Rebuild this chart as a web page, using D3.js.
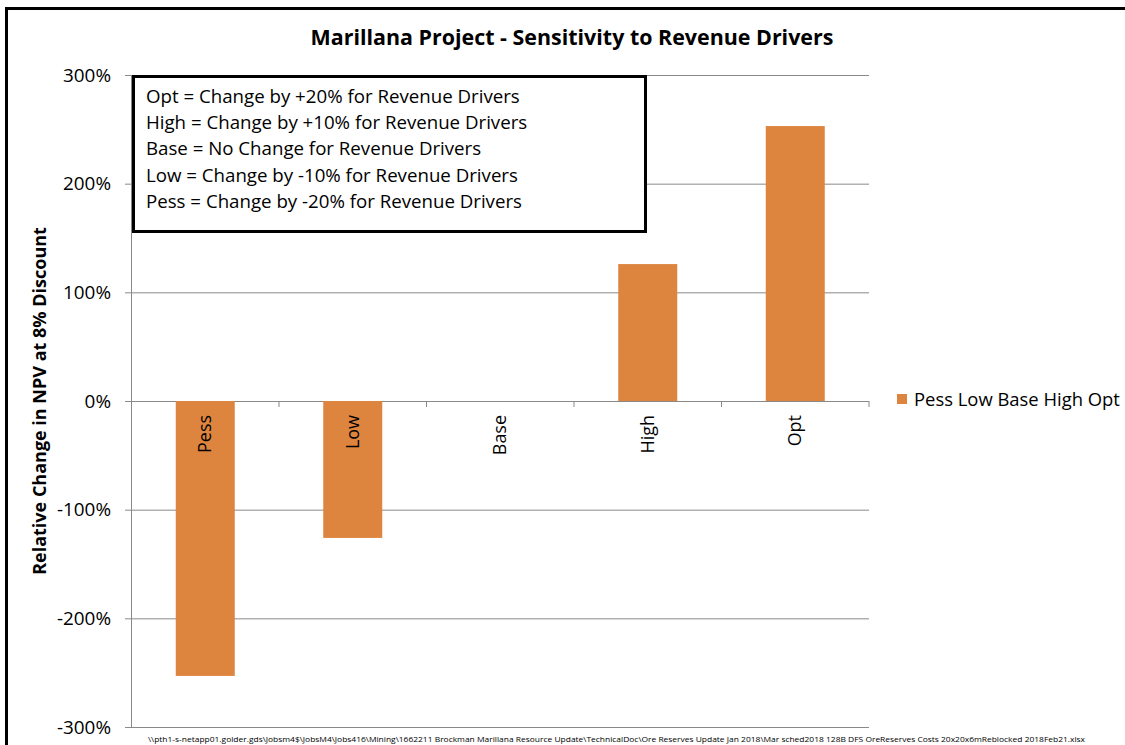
<!DOCTYPE html>
<html><head><meta charset="utf-8">
<script src="https://cdn.jsdelivr.net/npm/d3@7"></script>
<style>body{margin:0;background:#fff}svg{display:block}text{font-family:"Open Sans",sans-serif}</style>
</head><body><svg id="c" width="1125" height="745"></svg>
<script>
const categories = ["Pess","Low","Base","High","Opt"];
const values = [-2.53,-1.26,0,1.26,2.53];
const yTicks = [-3,-2,-1,0,1,2,3];
const notes = ["Opt = Change by +20% for Revenue Drivers","High = Change by +10% for Revenue Drivers","Base = No Change for Revenue Drivers","Low = Change by -10% for Revenue Drivers","Pess = Change by -20% for Revenue Drivers"];
const title = "Marillana Project - Sensitivity to Revenue Drivers";
const yTitle = "Relative Change in NPV at 8% Discount";
const legendLabel = "Pess Low Base High Opt";
const footnote = "\\\\pth1-s-netapp01.golder.gds\\Jobsm4$\\JobsM4\\Jobs416\\Mining\\1662211  Brockman  Marillana  Resource  Update\\TechnicalDoc\\Ore  Reserves  Update  Jan  2018\\Mar  sched2018  128B  DFS  OreReserves  Costs  20x20x6mReblocked  2018Feb21.xlsx";

const svg = d3.select("#c");
const color = "#DD843F", grid = "#898989";
const x = d3.scaleBand().domain(categories).range([131.5, 869]).paddingInner(0.6).paddingOuter(0.3);
const band = d3.scaleBand().domain(categories).range([131.5, 869]);
const y = d3.scaleLinear().domain([-3,3]).range([727,75]);
const pct = d => (d*100).toFixed(0) + "%";

// scale a text's font-size so that its width matches target
function fit(sel, target) {
  sel.each(function(){
    const fs = parseFloat(this.getAttribute("font-size"));
    const w = this.getComputedTextLength();
    this.setAttribute("font-size", (fs*target/w).toFixed(2));
  });
}

// outer frame
svg.append("rect").attr("x",6.5).attr("y",8.5).attr("width",1130).attr("height",750)
  .attr("fill","none").attr("stroke","#000").attr("stroke-width",3);

// gridlines
svg.append("g").selectAll("line").data(yTicks).join("line")
  .attr("x1",125).attr("x2",869).attr("y1",d=>y(d)+0.5).attr("y2",d=>y(d)+0.5)
  .attr("stroke",grid).attr("stroke-width",1);
svg.append("line").attr("x1",131.5).attr("x2",131.5).attr("y1",75).attr("y2",727).attr("stroke",grid);
svg.append("g").selectAll("line").data(categories).join("line")
  .attr("x1",(d,i)=>band(d)+band.bandwidth()).attr("x2",(d,i)=>band(d)+band.bandwidth())
  .attr("y1",y(0)).attr("y2",y(0)+6).attr("stroke",grid);

// y tick labels
const yt = svg.append("g").selectAll("text").data(yTicks).join("text")
  .attr("x",111).attr("y",d=>y(d)+6.5).attr("text-anchor","end")
  .attr("font-size",17).attr("fill","#000").text(pct);
const s300 = yt.filter(d=>d===3).node();
const ytfs = 17*48/s300.getComputedTextLength();
yt.attr("font-size",ytfs);

// bars
svg.append("g").selectAll("rect").data(categories).join("rect")
  .attr("x",d=>x(d)).attr("width",x.bandwidth())
  .attr("y",(d,i)=>y(Math.max(0,values[i]))).attr("height",(d,i)=>Math.abs(y(values[i])-y(0)))
  .attr("fill",color);

// category labels
const cl = svg.append("g").selectAll("text").data(categories).join("text")
  .attr("transform",d=>`translate(${x(d)+x.bandwidth()/2+6},${y(0)+14}) rotate(-90)`)
  .attr("text-anchor","end").attr("font-size",17).attr("fill","#000").text(d=>d);
const clfs = 17*38/cl.filter(d=>d==="Pess").node().getComputedTextLength();
cl.attr("font-size",clfs);

// title
const tt = svg.append("text").attr("x",572).attr("y",45).attr("text-anchor","middle")
  .attr("font-size",20).attr("font-weight","bold").text(title);
fit(tt, 523);

// y title
const yl = svg.append("text").attr("transform","translate(46,401) rotate(-90)").attr("text-anchor","middle")
  .attr("font-size",16).attr("font-weight","bold").text(yTitle);
fit(yl, 348);

// notes box
svg.append("rect").attr("x",133.5).attr("y",76.5).attr("width",512).attr("height",155)
  .attr("fill","#fff").attr("stroke","#000").attr("stroke-width",3);
const nt = svg.append("g").selectAll("text").data(notes).join("text")
  .attr("x",146).attr("y",(d,i)=>103+i*26.2).attr("font-size",17).text(d=>d);
const ntfs = 17*374/nt.filter((d,i)=>i===0).node().getComputedTextLength();
nt.attr("font-size",ntfs);

// legend
svg.append("rect").attr("x",897).attr("y",394).attr("width",10).attr("height",10).attr("fill",color);
const lg = svg.append("text").attr("x",914).attr("y",406).attr("font-size",17).text(legendLabel);
fit(lg, 206);

// footnote
svg.append("text").attr("x",148).attr("y",742).attr("font-size",7).attr("textLength",937)
  .attr("lengthAdjust","spacingAndGlyphs").text(footnote);
</script></body></html>
